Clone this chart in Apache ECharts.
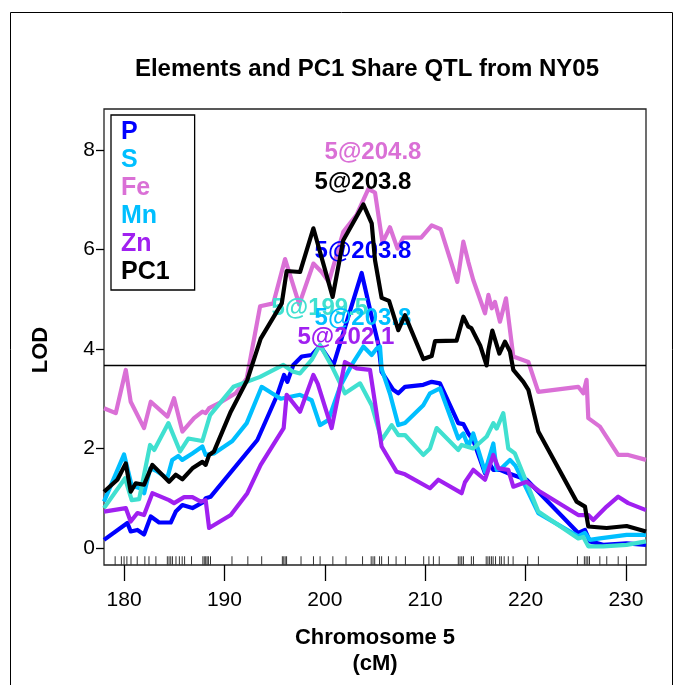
<!DOCTYPE html>
<html>
<head>
<meta charset="utf-8">
<script src="https://cdn.jsdelivr.net/npm/echarts@6/dist/echarts.min.js"></script>
<style>html,body{margin:0;padding:0;background:#fff}#c{width:679px;height:685px}</style>
</head>
<body>
<div id="c"></div>
<script>
// ---- data ----
const seriesNames = ['P', 'S', 'Fe', 'Mn', 'Zn', 'PC1'];
const legendColors = ['#0000FF', '#00BFFF', '#DA70D6', '#00BFFF', '#A020F0', '#000000'];
const lineColors = ['#0000FF', '#00BFFF', '#DA70D6', '#40E0D0', '#A020F0', '#000000'];

const pPos = [178.0,180.33,180.66,181.33,181.99,182.66,183.49,184.65,185.15,185.81,186.81,187.97,188.13,188.63,193.28,195.27,195.94,196.27,196.86,197.70,198.69,199.52,200.85,203.67,204.67,205.33,205.66,206.82,207.32,207.99,209.81,210.65,211.47,213.30,213.8,214.3,214.8,215.96,216.30,216.79,217.45,218.28,220.11,225.25,225.92,226.41,227.74,230.07,232.0];
const pLod = [0.16,0.50,0.33,0.36,0.27,0.63,0.51,0.51,0.73,0.86,0.80,0.93,1.00,1.03,2.17,3.08,3.48,3.34,3.68,3.85,3.88,4.07,3.67,5.53,4.65,4.10,3.54,3.18,3.11,3.24,3.28,3.34,3.31,2.51,2.49,2.30,2.16,1.50,1.73,1.57,1.57,1.50,1.37,0.30,0.36,0.13,0.06,0.09,0.06];

const sPos = [178.0,180.0,180.76,181.6,182.0,182.6,183.2,184.3,184.8,185.4,185.8,186.8,187.8,188.13,188.96,190.79,192.22,193.71,195.61,197.53,198.69,199.52,200.35,201.51,202.68,203.84,204.67,205.17,205.5,205.66,206.49,207.32,207.99,209.81,210.48,211.47,213.30,213.8,214.30,214.79,215.96,216.79,217.12,217.6,218.45,219.0,221.27,225.25,225.92,226.41,227.41,230.07,232.0];
const sLod = [0.93,1.88,1.25,1.20,1.10,1.60,1.55,1.40,1.77,1.85,1.77,1.90,2.04,1.87,1.90,2.15,2.51,3.24,3.00,3.08,2.97,2.47,2.57,3.24,3.68,4.05,3.88,4.01,4.05,3.60,3.10,2.47,2.51,2.87,3.11,3.21,2.20,2.30,2.04,2.30,1.53,2.10,1.57,1.60,1.77,1.65,0.70,0.23,0.30,0.16,0.19,0.26,0.26];

const fePos = [178.0,179.17,180.17,180.66,181.99,182.66,184.32,184.98,185.81,186.97,187.80,188.13,188.47,189.46,191.12,192.22,193.55,194.87,196.04,197.45,198.86,199.69,200.4,201.84,203.17,204.33,205.0,205.75,206.49,207.24,207.82,209.6,210.65,211.55,213.2,213.8,214.3,214.79,215.96,216.30,216.63,216.95,217.45,218.05,218.78,220.28,221.27,225.25,225.75,226.08,226.25,227.41,229.23,230.23,232.0];
const feLod = [2.81,2.71,3.58,2.94,2.41,2.94,2.64,3.01,2.34,2.61,2.74,2.71,2.81,2.91,3.11,3.41,4.86,4.92,5.81,4.90,5.72,5.55,5.35,6.36,6.70,7.22,7.15,6.14,6.45,6.02,6.24,6.24,6.49,6.41,5.35,6.16,5.75,5.39,4.72,5.09,4.82,4.95,4.55,5.02,3.85,3.74,3.14,3.24,3.11,3.38,2.61,2.44,1.87,1.87,1.77];

const mnPos = [178.0,180.1,180.76,181.5,182.59,183.0,184.42,185.58,186.4,187.8,188.57,190.89,193.55,195.87,196.8,197.53,198.69,199.52,200.68,202.01,203.51,204.67,205.66,206.66,207.32,207.99,209.81,210.48,211.14,213.30,213.63,214.79,216.13,216.79,217.12,217.78,218.28,218.94,221.27,225.25,225.75,226.25,227.74,230.07,232.0];
const mnLod = [0.80,1.40,0.96,0.98,2.07,1.97,2.51,1.94,2.20,2.15,2.67,3.24,3.44,3.68,3.55,3.51,3.78,4.08,3.66,3.11,3.31,2.87,2.17,2.47,2.27,2.27,1.87,2.00,2.41,1.97,2.07,2.00,2.24,2.51,2.40,2.71,2.00,1.90,0.73,0.19,0.22,0.03,0.03,0.06,0.13];

const znPos = [178.0,180.17,180.66,181.33,181.99,182.82,184.48,184.98,185.98,186.81,187.64,188.13,188.47,190.63,192.28,193.61,195.9,196.2,197.53,198.86,199.3,200.68,202.01,203.17,204.5,205.66,207.16,207.99,210.48,211.31,213.63,213.96,214.79,215.96,216.79,217.3,218.28,218.78,220.11,221.3,225.25,226.25,226.75,228.08,229.23,230.23,232.0];
const znLod = [0.73,0.80,0.53,0.70,0.66,1.10,0.96,0.90,1.02,1.02,0.93,0.96,0.40,0.66,1.10,1.67,2.41,3.08,2.74,3.48,3.30,2.41,3.74,3.61,3.58,2.04,1.53,1.48,1.20,1.37,1.10,1.32,1.57,1.37,1.87,1.60,1.57,1.23,1.33,1.15,0.66,0.66,0.56,0.83,1.03,0.90,0.76];

const pc1Pos = [178.0,179.33,180.17,180.66,181.16,181.99,182.82,184.48,185.15,185.81,186.81,187.80,188.13,188.47,188.96,190.63,192.28,193.61,195.71,196.2,197.53,198.86,200.78,201.84,203.84,204.67,205.0,205.66,206.4,207.32,207.99,209.81,210.65,210.98,213.13,213.80,214.3,214.6,215.5,216.12,216.3,216.69,217.39,217.95,218.45,218.78,219.78,220.28,221.27,225.09,225.92,226.25,228.08,230.07,232.0];
const pc1Lod = [1.13,1.37,1.70,1.13,1.30,1.27,1.67,1.33,1.47,1.38,1.60,1.73,1.67,1.87,1.94,2.74,3.38,4.21,4.92,5.57,5.55,6.43,5.05,6.19,6.91,6.53,5.79,5.03,4.97,4.38,4.68,3.80,3.86,4.16,4.17,4.65,4.45,4.42,4.06,3.67,3.98,4.37,3.91,4.15,3.95,3.58,3.34,3.18,2.34,0.93,0.83,0.43,0.40,0.44,0.33];

const markerPos = [179.11,179.73,180.0,180.28,180.69,181.31,182.07,182.48,183.17,184.31,184.48,184.65,184.82,185.17,185.51,185.79,186.03,186.72,187.85,187.99,188.13,188.27,188.40,188.61,190.75,192.33,193.71,195.77,195.91,196.05,196.19,197.63,198.87,199.53,200.80,202.11,203.76,204.62,204.80,204.97,205.45,205.66,206.34,207.10,208.03,209.85,210.37,210.82,211.40,213.30,213.47,213.64,213.81,214.60,214.81,216.08,216.25,216.42,216.60,216.77,217.01,217.42,217.59,217.87,218.28,218.76,220.21,221.28,225.17,225.86,226.03,226.20,226.37,227.40,228.09,229.23,230.05];

const threshold = 3.68;
const peakText = ['5@204.8', '5@203.8', '5@203.8', '5@199.5', '5@203.8', '5@202.1'];
const peakTextPos = [204.8, 203.8, 203.8, 199.5, 203.8, 202.1];
const peakTextLod = [7.96, 7.36, 5.97, 4.82, 4.62, 4.24];
const peakColors = ['#DA70D6', '#000000', '#0000FF', '#40E0D0', '#00BFFF', '#A020F0'];

const xTicks = [180, 190, 200, 210, 220, 230];
const yTicks = [0, 2, 4, 6, 8];
const titleText = 'Elements and PC1 Share QTL from NY05';
const xTitle = 'Chromosome 5\n(cM)';
const yTitle = 'LOD';

// ---- chart ----
const FONT = '"Liberation Sans", Arial, Helvetica, sans-serif';
const posArr = [pPos, sPos, fePos, mnPos, znPos, pc1Pos];
const lodArr = [pLod, sLod, feLod, mnLod, znLod, pc1Lod];
const zip = (a, b) => a.map((v, i) => [v, b[i]]);

const chart = echarts.init(document.getElementById('c'), null, {renderer: 'canvas'});

const lineSeries = seriesNames.map((n, i) => ({
  name: n,
  type: 'line',
  data: zip(posArr[i], lodArr[i]),
  showSymbol: false,
  symbol: 'none',
  lineStyle: {color: lineColors[i], width: 4.2, join: 'round', opacity: 1},
  itemStyle: {color: lineColors[i]},
  z: n === 'PC1' ? 5 : 3,
  silent: true
}));

lineSeries[0].markLine = {
  silent: true,
  symbol: 'none',
  label: {show: false},
  lineStyle: {color: '#000', width: 1.3, type: 'solid', opacity: 1},
  data: [{yAxis: threshold}]
};

const option = {
  animation: false,
  backgroundColor: '#fff',
  title: {
    text: titleText,
    left: 362,
    top: 52,
    textAlign: 'center',
    textStyle: {fontFamily: FONT, fontSize: 24, fontWeight: 'bold', color: '#000'}
  },
  legend: {
    orient: 'vertical',
    left: 111,
    top: 115,
    icon: 'rect',
    itemWidth: 0,
    itemHeight: 0,
    itemGap: 3,
    padding: [5, 25, 5, 5],
    borderColor: '#000',
    borderWidth: 1.3,
    selectedMode: false,
    textStyle: {fontFamily: FONT, fontSize: 25, fontWeight: 'bold'},
    data: seriesNames.map((n, i) => ({name: n, textStyle: {color: legendColors[i]}}))
  },
  grid: {
    left: 104, right: 33, top: 109, bottom: 120,
    show: true, borderColor: '#222', borderWidth: 1.3, backgroundColor: 'transparent'
  },
  xAxis: {
    type: 'value',
    min: 178, max: 232,
    position: 'bottom',
    name: xTitle,
    nameLocation: 'middle',
    nameGap: 60,
    nameTextStyle: {fontFamily: FONT, fontSize: 22, fontWeight: 'bold', color: '#000', lineHeight: 26},
    axisLine: {show: false, onZero: false},
    splitLine: {show: false},
    axisTick: {show: true, inside: false, length: 16, customValues: xTicks, lineStyle: {color: '#000', width: 1.3}},
    axisLabel: {customValues: xTicks, margin: 25, fontFamily: FONT, fontSize: 21, color: '#000'}
  },
  yAxis: {
    type: 'value',
    min: -0.345, max: 8.83,
    position: 'left',
    name: yTitle,
    nameLocation: 'middle',
    nameRotate: 90,
    nameGap: 52,
    nameTextStyle: {fontFamily: FONT, fontSize: 22, fontWeight: 'bold', color: '#000', padding: [0, 26, 0, 0]},
    axisLine: {show: false, onZero: false},
    splitLine: {show: false},
    axisTick: {show: true, inside: false, length: 8, customValues: yTicks, lineStyle: {color: '#000', width: 1.3}},
    axisLabel: {customValues: yTicks, margin: 9, fontFamily: FONT, fontSize: 21, color: '#000'}
  },
  graphic: [{
    type: 'rect',
    shape: {x: 10.5, y: 12.5, width: 662, height: 700},
    style: {fill: 'none', stroke: '#000', lineWidth: 1},
    silent: true, z: -10
  }],
  series: [
    {
      name: 'rug',
      type: 'scatter',
      data: markerPos.map(p => [p, -0.26]),
      symbol: 'rect',
      symbolSize: [1, 9],
      itemStyle: {color: '#333', opacity: 1},
      silent: true,
      z: 2
    },
    ...lineSeries.slice(0, 5),
    {
      name: 'peaks',
      type: 'scatter',
      data: peakText.map((t, i) => ({
        name: t,
        value: [peakTextPos[i], peakTextLod[i]],
        label: {color: peakColors[i]}
      })),
      symbolSize: 0,
      itemStyle: {opacity: 1},
      silent: true,
      z: 4,
      label: {
        show: true,
        position: 'inside',
        formatter: p => p.name,
        fontFamily: FONT,
        fontSize: 24,
        fontWeight: 'bold',
        opacity: 1
      }
    },
    lineSeries[5]
  ]
};
chart.setOption(option);
</script>
</body>
</html>
